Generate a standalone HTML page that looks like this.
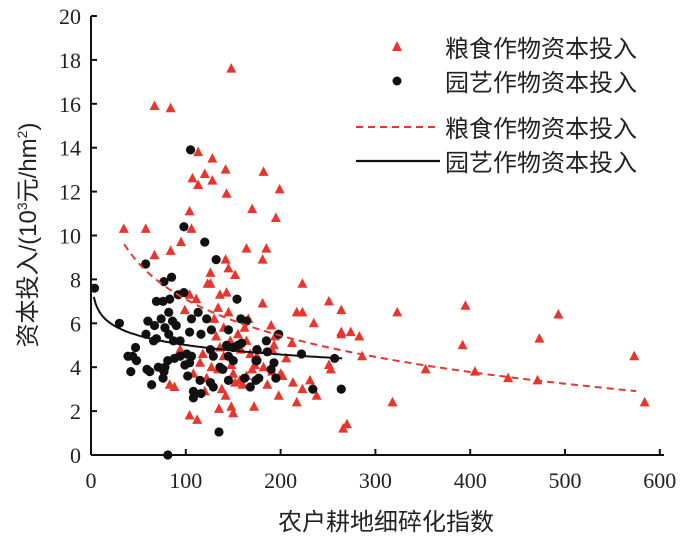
<!DOCTYPE html>
<html><head><meta charset="utf-8">
<style>
html,body{margin:0;padding:0;background:#fff;width:700px;height:537px;overflow:hidden}
svg{display:block}
text{font-family:"Liberation Serif","Noto Serif CJK SC",serif;fill:#222}
.cj{font-family:"Liberation Sans","Noto Sans CJK SC",sans-serif}
</style></head><body>
<svg id="s" width="700" height="537" xmlns="http://www.w3.org/2000/svg">
<g id="pts"></g>
<line x1="91" y1="455" x2="664" y2="455" stroke="#111" stroke-width="2"/>
<line x1="91" y1="16" x2="91" y2="455" stroke="#111" stroke-width="2"/>
<g id="ticks"></g>
<text x="386" y="530" text-anchor="middle" font-size="24" class="cj">农户耕地细碎化指数</text>
<text transform="translate(36,235) rotate(-90)" text-anchor="middle" font-size="24" class="cj">资本投入/(10<tspan font-size="14" dy="-9">3</tspan><tspan dy="9">元/hm</tspan><tspan font-size="14" dy="-9">2</tspan><tspan dy="9">)</tspan></text>
<polygon points="397,41 392,51 402,51" fill="#e8362c"/>
<circle cx="397" cy="81" r="4.5" fill="#111"/>
<line x1="356" y1="127" x2="438" y2="127" stroke="#e8362c" stroke-width="2" stroke-dasharray="7,5"/>
<line x1="356" y1="161" x2="440" y2="161" stroke="#111" stroke-width="2.2"/>
<text x="445" y="57" font-size="24" class="cj">粮食作物资本投入</text>
<text x="445" y="91" font-size="24" class="cj">园艺作物资本投入</text>
<text x="445" y="137" font-size="24" class="cj">粮食作物资本投入</text>
<text x="445" y="171" font-size="24" class="cj">园艺作物资本投入</text>
</svg>
<script>
var NS="http://www.w3.org/2000/svg";
function X(v){return 91+v*0.948}function Y(v){return 455-v*21.95}
function el(t,a,p){var e=document.createElementNS(NS,t);for(var k in a)e.setAttribute(k,a[k]);(p||document.getElementById('pts')).appendChild(e);return e}
var tk=document.getElementById('ticks');
for(var i=0;i<=6;i++){var x=X(i*100);el('line',{x1:x,y1:455,x2:x,y2:449,stroke:'#111','stroke-width':2},tk);var t=el('text',{x:x,y:488,'text-anchor':'middle','font-size':22},tk);t.textContent=i*100;}
for(var i=0;i<=10;i++){var y=Y(i*2);el('line',{x1:91,y1:y,x2:97,y2:y,stroke:'#111','stroke-width':2},tk);var t=el('text',{x:81,y:y+8,'text-anchor':'end','font-size':22},tk);t.textContent=i*2;}
var R=[[34.6,10.3],[57.7,10.3],[67,15.9],[84,15.8],[148,17.6],[67,9.1],[84,9.3],[95,9.7],[104,11.1],[106,10.3],[107,12.6],[113,12.3],[113,13.8],[120,12.8],[128,13.5],[128,12.5],[142,13],[143,11.9],[170,11.2],[182,12.9],[199,12.1],[195,10.8],[164,9.4],[185,9.4],[181,8.9],[142,8.9],[145,8.5],[152,8.2],[126,8.3],[123,7.8],[126,7.8],[136,7.3],[143,7.4],[181,6.9],[223,7.8],[217,6.5],[223,6.5],[235,6],[251,7],[264,6.6],[264,5.6],[264,5.5],[274,5.6],[283,5.4],[286,4.5],[323,6.5],[353,3.9],[395,6.8],[392,5],[405,3.8],[440,3.5],[471,3.4],[473,5.3],[493,6.4],[573,4.5],[584,2.4],[318,2.4],[266,1.2],[270,1.4],[104,1.8],[112,1.6],[135,2.1],[148,2.2],[150,1.9],[172,2.2],[142,2.7],[198,2.7],[217,2.4],[223,3],[238,2.7],[231,3.4],[253,3.9],[251,4.1],[213,3.3],[206,4.4],[200,3.7],[202,3.6],[191,3.8],[191,4.8],[193,5],[190,5.9],[212,5.1],[194,5.4],[83,3.2],[88,3.1],[92,4.6],[94,4.8],[104,7.3],[111,7.1],[99,6.6],[136,4.9],[150,3.7],[157,3.4],[164,5.2],[166,6.2],[162,5.8],[155,5.5],[145,6.5],[134,6.7],[127,4],[122,3.5],[108,3.7],[115,4.2],[175,4.5],[173,4.1],[182,4],[140,4.5],[148,4.1],[152,3.3],[164,3.6],[168,4.6],[177,4.8],[130,6.2],[140,5.8],[158,4.8],[118,4.6],[134,3.9],[147,5.2],[186,3.2],[160,3.2],[138,3.0],[120,2.9],[170,3.9],[132,5.4]];
R.forEach(function(p){var x=X(p[0]),y=Y(p[1]);el('polygon',{points:x+','+(y-5.5)+' '+(x-5)+','+(y+4)+' '+(x+5)+','+(y+4),fill:'#e8362c'});});
var B=[[3.7,7.6],[30,6],[57.7,8.7],[58,5.5],[81,0],[135,1.05],[105,13.9],[98,10.4],[120,9.7],[132,8.9],[154,7.1],[77,7.9],[85,8.1],[69,7],[76,7],[83,7.1],[92,7.3],[98,7.4],[60,6.1],[67,5.9],[74,6.2],[82,6.5],[86,6.1],[90,5.9],[78,5.8],[82,5.5],[66,5.2],[69,5.3],[87,5.2],[94,5.2],[104,5.6],[106,6.2],[113,6.5],[122,6.2],[127,5.7],[116,5.5],[136,4],[129,4.5],[126,4.8],[143,5],[145,5.7],[150,4.9],[155,5],[159,5.1],[164,6.1],[158,6.2],[185,5.2],[198,5.5],[186,4.7],[175,4.8],[174,4.3],[193,4.2],[190,3.9],[195,3.5],[177,3.5],[174,3.4],[162,3.5],[168,3.1],[145,3.4],[139,3.9],[129,3.1],[126,3.3],[116,2.8],[108,2.6],[108,2.9],[115,3.4],[102,3.6],[99,4.1],[104,4.2],[106,4.5],[101,4.6],[94,4.5],[88,4.4],[81,4.3],[78,4],[71,4],[76,3.5],[77,3.8],[64,3.2],[62,3.8],[59,3.9],[48,4.3],[44,4.5],[39,4.5],[42,3.8],[47,4.9],[145,4.5],[150,4.3],[175,4.3],[222,4.6],[234,3],[257,4.4],[264,3]];
B.forEach(function(p){el('circle',{cx:X(p[0]),cy:Y(p[1]),r:4.6,fill:'#111'});});
var d='';for(var x=35;x<=575;x+=5){d+=(x==35?'M':'L')+X(x).toFixed(1)+','+Y(18.1-2.39*Math.log(x)).toFixed(1);}
el('path',{d:d,fill:'none',stroke:'#e8362c','stroke-width':2,'stroke-dasharray':'7,5'});
d='';for(var x=3;x<=265;x+=2){d+=(x==3?'M':'L')+X(x).toFixed(1)+','+Y(7.89-0.625*Math.log(x)).toFixed(1);}
el('path',{d:d,fill:'none',stroke:'#111','stroke-width':2});
</script>
</body></html>
